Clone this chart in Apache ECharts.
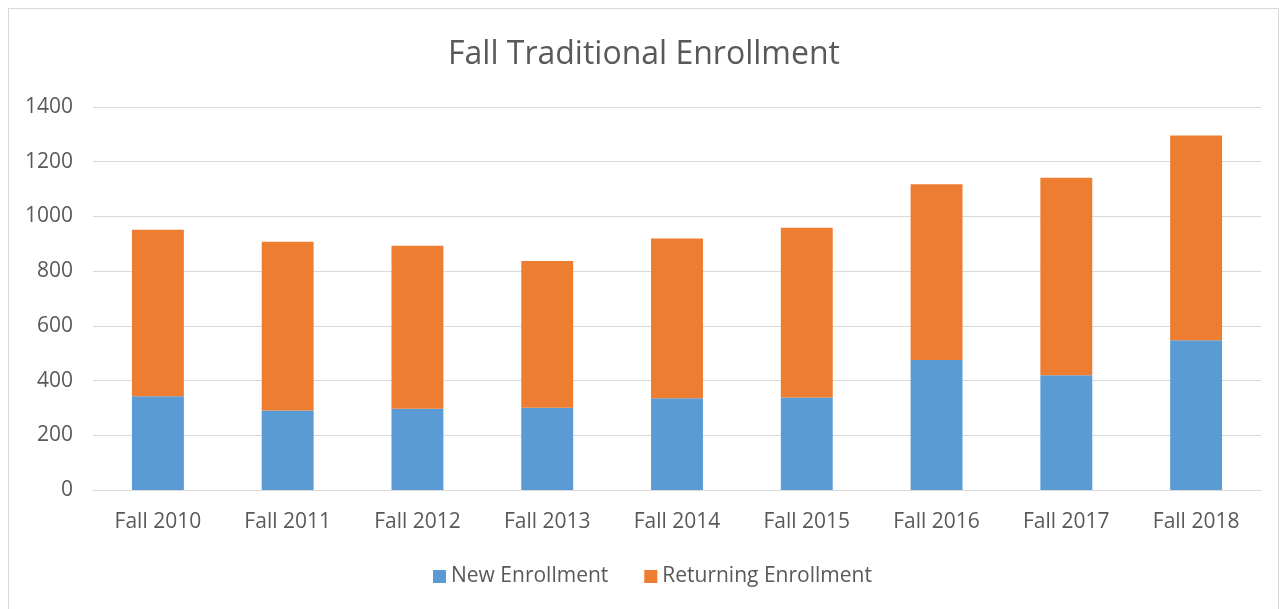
<!DOCTYPE html>
<html>
<head>
<meta charset="utf-8">
<script src="https://cdn.jsdelivr.net/npm/echarts@6/dist/echarts.min.js"></script>
<style>
    html, body { margin: 0; padding: 0; background: #fff; }
    #frame { position: absolute; left: 8px; top: 8px; width: 1271px; height: 610px; border: 1px solid #d9d9d9; box-sizing: border-box; }
    #chart { position: absolute; left: 0; top: 0; width: 1288px; height: 609px; }
</style>
</head>
<body>
<div id="frame"></div>
<div id="chart"></div>
<script>
// 数据
var categories = ['Fall 2010', 'Fall 2011', 'Fall 2012', 'Fall 2013', 'Fall 2014', 'Fall 2015', 'Fall 2016', 'Fall 2017', 'Fall 2018'];
var newEnrollment = [343, 291, 297, 301, 335, 338, 475, 419, 547];
var returningEnrollment = [608, 616, 596, 536, 584, 621, 643, 722, 749];
var yTicks = [0, 200, 400, 600, 800, 1000, 1200, 1400];

(function(){

    var chart = echarts.init(document.getElementById('chart'));
    var font = '"Open Sans", Lato, sans-serif';

    option = {
        animation: false,
        textStyle: { fontFamily: font },
        title: {
            text: 'Fall Traditional Enrollment',
            left: 'center',
            top: 34,
            textStyle: { fontFamily: font, fontSize: 32, fontWeight: 'normal', color: '#595959' }
        },
        legend: {
            top: 561,
            left: 428,
            itemWidth: 13,
            itemHeight: 13,
            itemGap: 36,
            icon: 'rect',
            textStyle: { fontFamily: font, fontSize: 21, color: '#595959' },
            data: ['New Enrollment', 'Returning Enrollment']
        },
        grid: {
            left: 93,
            right: 27,
            top: 107,
            bottom: 119
        },
        xAxis: {
            type: 'category',
            data: categories,
            axisLine: { lineStyle: { color: '#d9d9d9', width: 1 } },
            axisTick: { show: false },
            axisLabel: { fontFamily: font, fontSize: 21, color: '#595959', margin: 22 }
        },
        yAxis: {
            type: 'value',
            min: yTicks[0],
            max: yTicks[yTicks.length - 1],
            interval: 200,
            axisLine: { show: false },
            axisTick: { show: false },
            splitLine: { lineStyle: { color: '#d9d9d9', width: 1 } },
            axisLabel: {
                fontFamily: font, fontSize: 21, color: '#595959', margin: 20,
                formatter: function (v) { return String(v); }
            }
        },
        series: [
            {
                name: 'New Enrollment',
                type: 'bar',
                stack: 'total',
                barWidth: '40%',
                itemStyle: { color: '#5b9bd5' },
                data: newEnrollment
            },
            {
                name: 'Returning Enrollment',
                type: 'bar',
                stack: 'total',
                barWidth: '40%',
                itemStyle: { color: '#ed7d31' },
                data: returningEnrollment
            }
        ]
    };

    chart.setOption(option);
})();
</script>
</body>
</html>
